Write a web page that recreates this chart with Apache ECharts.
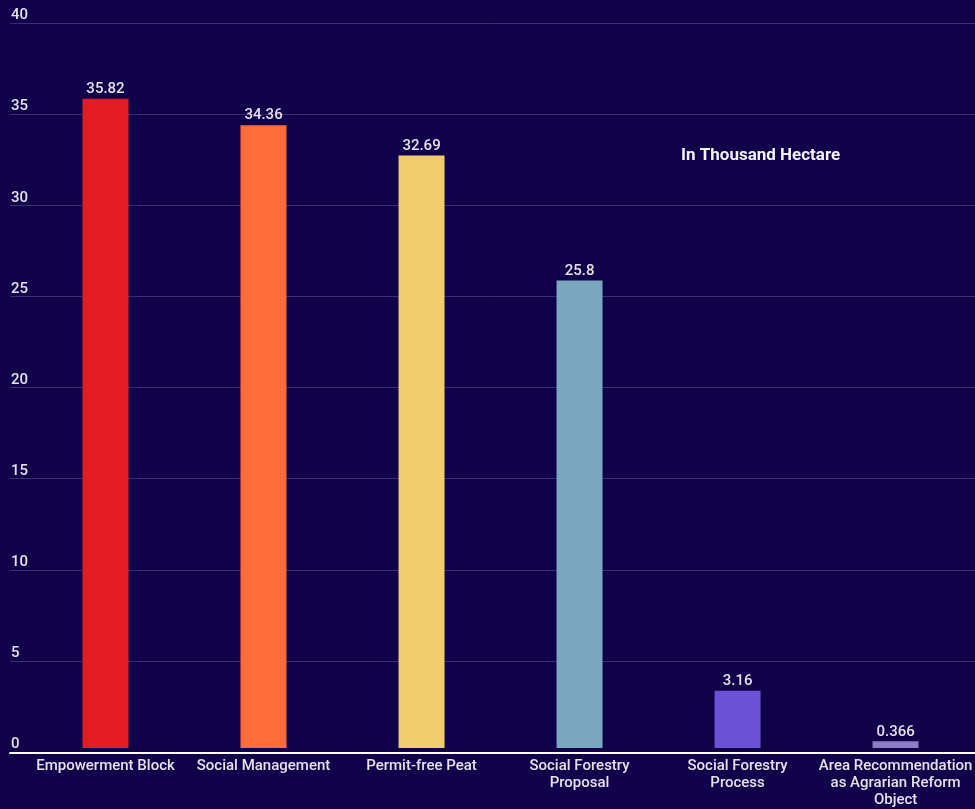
<!DOCTYPE html>
<html>
<head>
<meta charset="utf-8">
<script src="https://cdn.jsdelivr.net/npm/echarts@6/dist/echarts.min.js"></script>
<style>
  html, body { margin: 0; padding: 0; background: #10004a; }
  #chart { width: 975px; height: 809px; }
</style>
</head>
<body>
<div id="chart"></div>
<script>
// Land area per allocation scheme, thousand hectares
const categories = [
  'Empowerment Block',
  'Social Management',
  'Permit-free Peat',
  'Social Forestry\nProposal',
  'Social Forestry\nProcess',
  'Area Recommendation\nas Agrarian Reform\nObject'
];
const values = [35.82, 34.36, 32.69, 25.8, 3.16, 0.366];
const barColors = ['#e31b23', '#ff6b3b', '#f0cc6e', '#7ba6bf', '#6a52d6', '#8a7cc8'];
const yTicks = [0, 5, 10, 15, 20, 25, 30, 35, 40];

const textColor = '#e4e2ec';
const fontFamily = 'Roboto, "Noto Sans", sans-serif';

const chart = echarts.init(document.getElementById('chart'), null, { renderer: 'canvas' });

chart.setOption({
  backgroundColor: '#10004a',
  animation: false,
  title: {
    text: 'In Thousand Hectare',
    left: 676,
    top: 142,
    textStyle: { color: '#f4f2fa', fontSize: 17, fontWeight: 'bold', fontFamily }
  },
  grid: [
    // value scale with full-width grid lines
    { left: 10, right: 0, top: 23, bottom: 57 },
    // bars
    { left: 26.5, right: -3.5, top: 23, bottom: 57 }
  ],
  xAxis: [
    {
      gridIndex: 0, type: 'value', min: 0, max: 1, show: true,
      axisLabel: { show: false }, axisTick: { show: false }, splitLine: { show: false },
      axisLine: { show: true, onZero: false, lineStyle: { color: '#ffffff', width: 2 } },
      offset: 1
    },
    {
      gridIndex: 1, type: 'category', data: categories,
      axisLine: { show: false }, axisTick: { show: false },
      axisLabel: {
        interval: 0, color: textColor, fontSize: 15, fontWeight: 500,
        fontFamily, lineHeight: 17, margin: 10, align: 'center'
      }
    }
  ],
  yAxis: [
    {
      gridIndex: 0, type: 'value', min: 0, max: 40, interval: 5,
      axisLine: { show: false }, axisTick: { show: false },
      axisLabel: {
        inside: true, margin: 1, verticalAlign: 'bottom', color: textColor,
        fontSize: 15, fontWeight: 500, fontFamily,
        formatter: v => (yTicks.includes(v) ? String(v) : '')
      },
      splitLine: { show: true, lineStyle: { color: '#3b2d73', width: 1 } }
    },
    {
      gridIndex: 1, type: 'value', min: 0, max: 40, interval: 5, show: false,
      splitLine: { show: false }
    }
  ],
  series: [
    {
      type: 'bar',
      xAxisIndex: 1,
      yAxisIndex: 1,
      barWidth: 46,
      data: values.map((v, i) => ({ value: v, itemStyle: { color: barColors[i] } })),
      label: {
        show: true, position: 'top', distance: 2, color: textColor,
        fontSize: 15, fontWeight: 500, fontFamily,
        formatter: p => String(values[p.dataIndex])
      },
      z: 3
    }
  ]
});
</script>
</body>
</html>
